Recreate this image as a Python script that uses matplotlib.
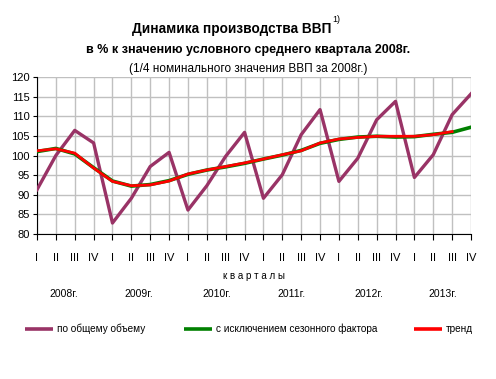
import matplotlib
matplotlib.use("Agg")
import matplotlib.pyplot as plt
from matplotlib import font_manager

names = {f.name for f in font_manager.fontManager.ttflist}
NARROW = "Liberation Sans Narrow" if "Liberation Sans Narrow" in names else "Liberation Sans"
plt.rcParams['font.family'] = [NARROW, 'DejaVu Sans']

quarters = ["I", "II", "III", "IV"] * 6
years = ["2008г.", "2009г.", "2010г.", "2011г.", "2012г.", "2013г."]

total = [91.3, 100.0, 106.4, 103.2,
         82.8, 89.1, 97.2, 100.8,
         86.1, 92.3, 99.8, 105.9,
         89.1, 95.1, 105.3, 111.7,
         93.4, 99.3, 109.1, 113.8,
         94.4, 100.2, 110.4, 115.7]
seas_adj = [101.0, 101.8, 100.4, 96.9,
            93.5, 92.2, 92.6, 93.6,
            95.2, 96.3, 97.1, 98.0,
            99.1, 100.1, 101.3, 103.1,
            104.1, 104.7, 104.9, 104.7,
            104.8, 105.4, 105.9, 107.2]
trend = [101.2, 101.7, 100.6, 96.8,
         93.4, 92.3, 92.5, 93.5,
         95.3, 96.3, 97.2, 98.1,
         99.1, 100.2, 101.2, 103.2,
         104.2, 104.6, 104.9, 104.9,
         104.9, 105.3, 106.1]

fig = plt.figure(figsize=(4.96, 3.79), dpi=100)
ax = fig.add_axes([37/496, 1-234/379, (471-37)/496, (234-77)/379])

x = list(range(len(total)))
ax.plot(x, total, color="#993366", lw=2.4, zorder=3)
ax.plot(range(len(seas_adj)), seas_adj, color="#008000", lw=2.6, zorder=4)
ax.plot(range(len(trend)), trend, color="#FF0000", lw=2.0, zorder=5)

ax.set_xlim(0, 23)
ax.set_ylim(80, 120)
ax.set_yticks(range(80, 121, 5))
ax.set_xticks(x)
ax.set_xticklabels(quarters)
ax.grid(True, color="#c0c0c0", lw=1)
ax.set_axisbelow(True)
for s in ["top", "right"]:
    ax.spines[s].set_visible(False)
ax.spines["left"].set_color("black")
ax.spines["bottom"].set_color("black")
ax.tick_params(axis="y", labelsize=8, length=3, pad=2)
ax.tick_params(axis="x", labelsize=8, length=4, pad=10)

fig.text(254/496, 1-276/379, "к в а р т а л ы", ha="center", va="center", fontsize=7)
year_x = [64, 139, 217, 291, 369, 443]
for yx, yl in zip(year_x, years):
    fig.text(yx/496, 1-294/379, yl, ha="center", va="center", fontsize=7.5)

t = fig.text(232/496, 1-29/379, "Динамика производства ВВП", ha="center", va="center",
             fontsize=9.8, fontweight="bold")
fig.canvas.draw()
bb = t.get_window_extent()
fig.text((bb.x1 + 1)/496, 1-20/379, "1)", ha="left", va="center", fontsize=6.5)
fig.text(248/496, 1-50/379, "в % к значению условного среднего квартала 2008г.",
         ha="center", va="center", fontsize=9.0, fontweight="bold")
fig.text(248/496, 1-69/379, "(1/4 номинального значения ВВП за 2008г.)",
         ha="center", va="center", fontsize=8.5)

# legend
ly = 1-329/379
items = [(25, "#993366", "по общему объему"),
         (184, "#008000", "с исключением сезонного фактора"),
         (414, "#FF0000", "тренд")]
for lx, col, lab in items:
    fig.add_artist(plt.Line2D([lx/496, (lx+28)/496], [ly, ly], color=col, lw=2.6,
                              solid_capstyle="butt", transform=fig.transFigure))
    fig.text((lx+32)/496, ly, lab, ha="left", va="center", fontsize=7.2)

fig.savefig("out.png", dpi=100)
